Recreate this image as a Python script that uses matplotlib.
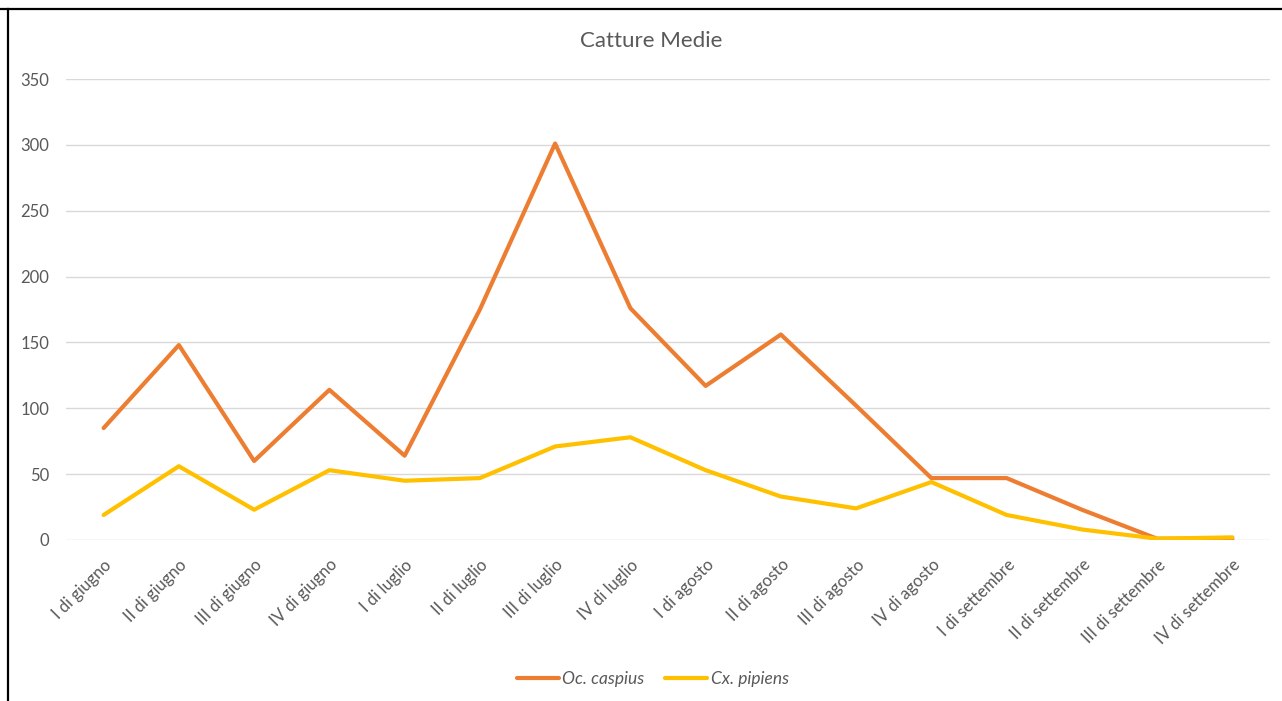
import numpy as np
from matplotlib import pyplot as plt
from matplotlib.lines import Line2D

plt.rcParams['font.family'] = ['Lato', 'DejaVu Sans']

categories = [
    "I di giugno", "II di giugno", "III di giugno", "IV di giugno",
    "I di luglio", "II di luglio", "III di luglio", "IV di luglio",
    "I di agosto", "II di agosto", "III di agosto", "IV di agosto",
    "I di settembre", "II di settembre", "III di settembre", "IV di settembre",
]
oc_caspius = [85, 148, 60, 114, 64, 175, 301, 176, 117, 156, 102, 47, 47, 23, 1, 1]
cx_pipiens = [19, 56, 23, 53, 45, 47, 71, 78, 53, 33, 24, 44, 19, 8, 1, 2]
y_ticks = [0, 50, 100, 150, 200, 250, 300, 350]

text_grey = "#595959"

fig = plt.figure(figsize=(12.82, 7.01), dpi=100)
ax = fig.add_axes([66 / 1282, 1 - 540 / 701, 1204 / 1282, 461 / 701])

x = np.arange(len(categories))
ax.plot(x, oc_caspius, color="#ED7D31", lw=3, solid_joinstyle="round",
        solid_capstyle="round", label="Oc. caspius", zorder=3)
ax.plot(x, cx_pipiens, color="#FFC000", lw=3, solid_joinstyle="round",
        solid_capstyle="round", label="Cx. pipiens", zorder=3)

ax.set_xlim(-0.5, len(categories) - 0.5)
ax.set_ylim(0, 350)
ax.set_yticks(y_ticks)
ax.set_xticks(x)
ax.set_xticklabels(categories, rotation=45, ha="right", rotation_mode="anchor")
ax.grid(axis="y", color="#D9D9D9", lw=1)
ax.set_axisbelow(True)
for s in ax.spines.values():
    s.set_visible(False)
ax.tick_params(axis="both", length=0, colors=text_grey, labelsize=12)
ax.tick_params(axis="y", pad=12)
ax.tick_params(axis="x", pad=12)

fig.text(651 / 1282, 1 - 41 / 701, "Catture Medie", ha="center", va="center",
         fontsize=16, color=text_grey)

leg = fig.legend(loc="center", bbox_to_anchor=(653 / 1282, 1 - 679 / 701), ncol=2,
                 frameon=False, handlelength=2.4, columnspacing=1.2, handletextpad=0.2,
                 prop={"style": "italic", "size": 12.5})
for t in leg.get_texts():
    t.set_color(text_grey)

# frame of the original screenshot (top and left edges)
fig.add_artist(Line2D([0, 1], [1 - 9 / 701, 1 - 9 / 701], color="black", lw=1.6,
                      transform=fig.transFigure))
fig.add_artist(Line2D([8 / 1282, 8 / 1282], [0, 1 - 9 / 701], color="black", lw=1.6,
                      transform=fig.transFigure))

fig.savefig("out.png", dpi=100)
